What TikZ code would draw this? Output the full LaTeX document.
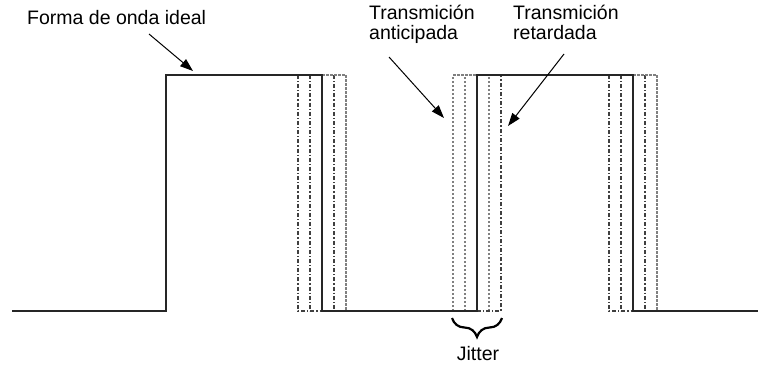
\documentclass[tikz,border=0pt]{standalone}
\usepackage{fontspec}
\setmainfont{Liberation Sans}
\usetikzlibrary{decorations.pathreplacing,arrows.meta}
\begin{document}
\begin{tikzpicture}[x=1pt,y=-1pt,
  wave/.style={line width=2.8pt, black!85, line join=miter},
  jitdark/.style={line width=1.2pt, black!75, dash pattern=on 4pt off 2pt on 1.2pt off 2pt},
  jitlight/.style={line width=1.2pt, black!50, dash pattern=on 2.5pt off 1.5pt},
  lbl/.style={font=\fontsize{19.5}{20}\selectfont, align=left, inner sep=0pt},
  pointer/.style={line width=1pt, -{Triangle[length=13pt,width=9pt]}},
  jitterbrace/.style={line width=2.2pt, decorate, decoration={brace, amplitude=19pt, aspect=0.5}},
]
\useasboundingbox (0,0) rectangle (759,368);

% early / late copies of the falling edges
\foreach \X in {322,633}{
  \draw[jitdark] (\X-24,75) -- (\X-24,311) -- (\X,311);
  \draw[jitdark] (\X-12,75) -- (\X-12,311);
  \draw[jitdark] (\X+12,75) -- (\X+12,311);
  \draw[jitlight] (\X,75) -- (\X+24,75) -- (\X+24,311);
}
% early / late copies of the rising edge
\draw[jitlight] (453,311) -- (453,75) -- (477,75);
\draw[jitlight] (465,311) -- (465,75);
\draw[jitlight] (489,311) -- (489,75);
\draw[jitdark] (477,311) -- (501,311) -- (501,75);

% ideal waveform
\draw[wave] (12,311) -- (166,311) -- (166,75) -- (322,75) -- (322,311)
  -- (477,311) -- (477,75) -- (633,75) -- (633,311) -- (758,311);

% labels
\node[lbl, anchor=base west] (ideal) at (27,24) {Forma de onda ideal};
\node[lbl, anchor=north west] (early) at (369,5) {Transmición\\anticipada};
\node[lbl, anchor=north west] (late) at (513,5) {Transmición\\retardada};
\node[lbl, anchor=center] (jitter) at (478,354) {Jitter};

\coordinate (idealfrom) at (149,34);
\coordinate (idealto) at (193,71);
\coordinate (earlyfrom) at (389,57);
\coordinate (earlyto) at (444,118);
\coordinate (latefrom) at (564,54);
\coordinate (lateto) at (508,126);
\draw[pointer] (idealfrom) -- (idealto);
\draw[pointer] (earlyfrom) -- (earlyto);
\draw[pointer] (latefrom) -- (lateto);

% jitter window
\coordinate (braceright) at (502,318);
\coordinate (braceleft) at (452,318);
\draw[jitterbrace] (braceright) -- (braceleft);
\end{tikzpicture}
\end{document}
